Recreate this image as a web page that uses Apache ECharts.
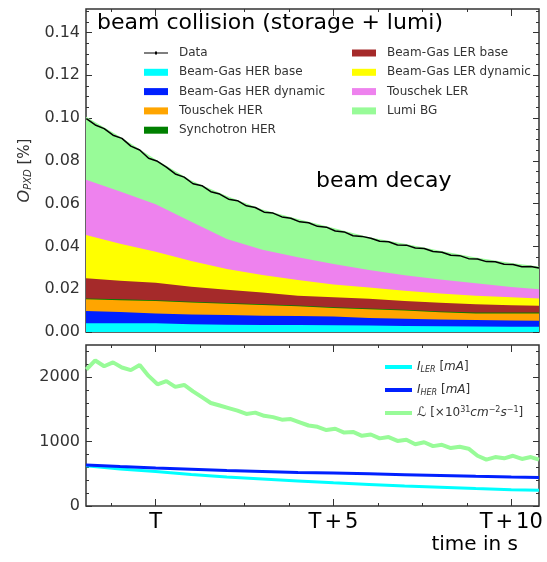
<!DOCTYPE html>
<html>
<head>
<meta charset="utf-8">
<script src="https://cdn.jsdelivr.net/npm/echarts@6/dist/echarts.min.js"></script>
<style>
  html, body { margin: 0; padding: 0; background: #fff; }
  #chart { width: 547px; height: 562px; }
</style>
</head>
<body>
<div id="chart"></div>
<script>
// time (s after T) for the smooth components
const coarseTime = [-1.96, -1, 0, 1, 2, 3, 4, 5, 6, 7, 8, 9, 10, 10.78];
// stacked background contributions, O_PXD [%]
const herBase        = [0.0041, 0.0041, 0.0041, 0.0036, 0.0034, 0.0033, 0.0033, 0.0032, 0.0030, 0.0028, 0.0027, 0.0026, 0.0025, 0.0025];
const herDynamic     = [0.0057, 0.0052, 0.0046, 0.0046, 0.0045, 0.0043, 0.0042, 0.0040, 0.0036, 0.0034, 0.0031, 0.0030, 0.0029, 0.0028];
const touschekHer    = [0.0055, 0.0056, 0.0058, 0.0056, 0.0053, 0.0050, 0.0045, 0.0040, 0.0040, 0.0038, 0.0034, 0.0031, 0.0033, 0.0034];
const synchrotronHer = [0.0004, 0.0004, 0.0004, 0.0004, 0.0004, 0.0004, 0.0004, 0.0004, 0.0004, 0.0004, 0.0004, 0.0004, 0.0004, 0.0004];
const lerBase        = [0.0094, 0.0087, 0.0081, 0.0070, 0.0062, 0.0055, 0.0046, 0.0046, 0.0045, 0.0041, 0.0041, 0.0039, 0.0034, 0.0032];
const lerDynamic     = [0.0202, 0.0172, 0.0145, 0.0120, 0.0097, 0.0082, 0.0073, 0.0060, 0.0053, 0.0048, 0.0043, 0.0040, 0.0037, 0.0034];
const touschekLer    = [0.0259, 0.0245, 0.0222, 0.0183, 0.0140, 0.0118, 0.0107, 0.0096, 0.0082, 0.0072, 0.0065, 0.0058, 0.0048, 0.0043];
const lumiBg         = [0.0294, 0.0256, 0.0209, 0.0193, 0.0201, 0.0188, 0.0178, 0.0168, 0.0153, 0.0148, 0.0135, 0.0120, 0.0113, 0.0106];
// beam currents [mA]
const lerCurrent = [625, 575, 535, 490, 450, 420, 390, 360, 335, 310, 290, 270, 252, 245];
const herCurrent = [635, 612, 590, 570, 550, 536, 522, 511, 500, 487, 475, 462, 450, 443];

// time for the noisy measured curves
const fineTime = [-1.95, -1.7, -1.45, -1.2, -0.95, -0.7, -0.45, -0.2, 0.05, 0.3, 0.55, 0.8, 1.05, 1.3, 1.55, 1.8,
  2.05, 2.3, 2.55, 2.8, 3.05, 3.3, 3.55, 3.8, 4.05, 4.3, 4.55, 4.8, 5.05, 5.3, 5.55, 5.8, 6.05, 6.3, 6.55, 6.8,
  7.05, 7.3, 7.55, 7.8, 8.05, 8.3, 8.55, 8.8, 9.05, 9.3, 9.55, 9.8, 10.05, 10.3, 10.55, 10.78];
const measured = [0.0997, 0.0968, 0.0951, 0.0920, 0.0905, 0.0869, 0.0851, 0.0812, 0.0798, 0.0771, 0.0739, 0.0724,
  0.0693, 0.0684, 0.0656, 0.0645, 0.0621, 0.0614, 0.0590, 0.0582, 0.0560, 0.0556, 0.0538, 0.0532, 0.0515, 0.0511,
  0.0494, 0.0490, 0.0472, 0.0468, 0.0450, 0.0447, 0.0438, 0.0424, 0.0422, 0.0407, 0.0406, 0.0393, 0.0390, 0.0376,
  0.0373, 0.0359, 0.0357, 0.0343, 0.0341, 0.0329, 0.0328, 0.0317, 0.0316, 0.0305, 0.0306, 0.0299];
const luminosity = [2120, 2260, 2170, 2230, 2150, 2110, 2190, 2020, 1890, 1940, 1850, 1880, 1780, 1690, 1600, 1560,
  1520, 1480, 1430, 1450, 1400, 1380, 1340, 1350, 1300, 1250, 1230, 1180, 1200, 1140, 1150, 1090, 1110, 1050, 1070,
  1010, 1030, 960, 990, 930, 950, 900, 920, 890, 780, 720, 760, 740, 780, 730, 760, 720];

// ticks
const xMajor = [0, 5, 10];
const xLabels = ['T', 'T+5', 'T+10'];
const xMinor = [-1.25, 1.25, 2.5, 3.75, 6.25, 7.5, 8.75];
const topMajor = [0, 0.02, 0.04, 0.06, 0.08, 0.10, 0.12, 0.14];
const botMajor = [0, 1000, 2000];

const X_MIN = -1.96, X_MAX = 10.78;
const TOP_MAX = 0.151, BOT_MAX = 2500;
const ink = '#333';

const topMinor = [];
for (let v = 0.005; v < TOP_MAX; v += 0.005) {
  if (Math.abs(v / 0.02 - Math.round(v / 0.02)) > 1e-6) topMinor.push(+v.toFixed(3));
}
const botMinor = [];
for (let v = 200; v < BOT_MAX; v += 200) {
  if (v % 1000 !== 0) botMinor.push(v);
}

function axis(grid, pos, min, max, ticks, len, label) {
  return {
    type: 'value', gridIndex: grid, position: pos, min: min, max: max,
    axisLine: { show: false, onZero: false },
    splitLine: { show: false },
    axisTick: { show: true, inside: true, length: len, customValues: ticks, lineStyle: { color: ink, width: 1 } },
    axisLabel: label ? Object.assign({ customValues: ticks }, label) : { show: false }
  };
}

const yLabel = { fontSize: 16, color: ink, fontFamily: 'DejaVu Sans', margin: 6 };

const xAxes = [
  axis(0, 'bottom', X_MIN, X_MAX, xMajor, 7),
  axis(0, 'top', X_MIN, X_MAX, xMajor, 7),
  axis(0, 'bottom', X_MIN, X_MAX, xMinor, 3),
  axis(0, 'top', X_MIN, X_MAX, xMinor, 3),
  axis(1, 'bottom', X_MIN, X_MAX, xMajor, 7, {
    fontSize: 21, color: '#000', fontFamily: 'DejaVu Sans', margin: 6,
    formatter: v => {
      const s = xLabels[xMajor.indexOf(v)] || '';
      return s.replace('+', '{p|+}');
    },
    rich: { p: { fontSize: 21, color: '#000', fontFamily: 'DejaVu Sans', padding: [0, 3] } }
  }),
  axis(1, 'top', X_MIN, X_MAX, xMajor, 7),
  axis(1, 'bottom', X_MIN, X_MAX, xMinor, 3),
  axis(1, 'top', X_MIN, X_MAX, xMinor, 3)
];

const topLeft = axis(0, 'left', 0, TOP_MAX, topMajor, 6, Object.assign({
  formatter: v => v.toFixed(2)
}, yLabel));
topLeft.name = '{o|O}{s|PXD} [%]';
topLeft.nameLocation = 'middle';
topLeft.nameGap = 52;
topLeft.nameRotate = 90;
topLeft.nameTextStyle = {
  fontSize: 15, color: ink, fontFamily: 'DejaVu Sans',
  rich: {
    o: { fontSize: 16, fontStyle: 'italic', color: ink, fontFamily: 'DejaVu Sans' },
    s: { fontSize: 10, fontStyle: 'italic', color: ink, fontFamily: 'DejaVu Sans', padding: [7, 0, 0, 0] }
  }
};

const yAxes = [
  topLeft,
  axis(0, 'right', 0, TOP_MAX, topMajor, 6),
  axis(0, 'left', 0, TOP_MAX, topMinor, 3),
  axis(0, 'right', 0, TOP_MAX, topMinor, 3),
  axis(1, 'left', 0, BOT_MAX, botMajor, 6, Object.assign({ formatter: v => String(v) }, yLabel)),
  axis(1, 'right', 0, BOT_MAX, botMajor, 6),
  axis(1, 'left', 0, BOT_MAX, botMinor, 3),
  axis(1, 'right', 0, BOT_MAX, botMinor, 3)
];

const pairs = (ts, vs) => ts.map((t, i) => [t, vs[i]]);

// stack by hand: each band is drawn as an area from 0 up to its running total,
// higher bands first so the lower ones paint over them
const bands = [
  ['Beam-Gas HER base', herBase, '#00ffff'],
  ['Beam-Gas HER dynamic', herDynamic, '#0020ff'],
  ['Touschek HER', touschekHer, '#ffa500'],
  ['Synchotron HER', synchrotronHer, '#008000'],
  ['Beam-Gas LER base', lerBase, '#a52a2a'],
  ['Beam-Gas LER dynamic', lerDynamic, '#ffff00'],
  ['Touschek LER', touschekLer, '#ee82ee'],
  ['Lumi BG', lumiBg, '#98fb98']
];
let running = coarseTime.map(() => 0);
const areaSeries = bands.map(([name, values, color]) => {
  running = running.map((r, i) => r + values[i]);
  return {
    name: name, type: 'line', xAxisIndex: 0, yAxisIndex: 0,
    data: pairs(coarseTime, running), symbol: 'none', color: color,
    lineStyle: { width: 0 }, areaStyle: { color: color, opacity: 1 }, z: 2
  };
}).reverse();

function lineSeries(name, ts, values, color, width) {
  return {
    name: name, type: 'line', xAxisIndex: 4, yAxisIndex: 4,
    data: pairs(ts, values), symbol: 'none', color: color,
    lineStyle: { width: width, color: color }, z: 3
  };
}

const series = areaSeries.concat([
  {
    name: 'Data', type: 'line', xAxisIndex: 0, yAxisIndex: 0,
    data: pairs(fineTime, measured), symbol: 'none', color: '#000',
    lineStyle: { width: 1.5, color: '#000' }, z: 4
  },
  lineSeries('lumi', fineTime, luminosity, '#98fb98', 4),
  lineSeries('ler', coarseTime, lerCurrent, '#00ffff', 3),
  lineSeries('her', coarseTime, herCurrent, '#0020ff', 3)
]);

const legendText = { fontSize: 12, color: ink, fontFamily: 'DejaVu Sans', lineHeight: 14, padding: [0, 0, 0, 6] };
const dataIcon = 'path://M0,1 L24,1 L24,2 L0,2 Z M11,0 L13,0 L13,3 L11,3 Z';

const mathRich = {
  i: { fontSize: 12, fontStyle: 'italic', color: ink, fontFamily: 'DejaVu Sans' },
  sub: { fontSize: 8, fontStyle: 'italic', color: ink, fontFamily: 'DejaVu Sans', padding: [5, 0, 0, 0] },
  sup: { fontSize: 8, color: ink, fontFamily: 'DejaVu Sans', padding: [0, 0, 6, 0] },
  l: { fontSize: 13, fontStyle: 'italic', color: ink, fontFamily: 'DejaVu Sans' }
};
const lineLegendNames = {
  ler: '{i|I}{sub|LER} [{i|mA}]',
  her: '{i|I}{sub|HER} [{i|mA}]',
  lumi: '{l|\u2112} [\u00d710{sup|31}{i|cm}{sup|\u22122}{i|s}{sup|\u22121}]'
};

const option = {
  animation: false,
  backgroundColor: '#fff',
  grid: [
    { left: 86, right: 8, top: 9, height: 323, show: true, borderColor: ink, borderWidth: 1.5, backgroundColor: 'transparent' },
    { left: 86, right: 8, top: 345, height: 161, show: true, borderColor: ink, borderWidth: 1.5, backgroundColor: 'transparent' }
  ],
  xAxis: xAxes,
  yAxis: yAxes,
  legend: [
    {
      left: 139, top: 41, orient: 'vertical', itemWidth: 24, itemHeight: 7, itemGap: 5.3,
      icon: 'rect', textStyle: legendText, selectedMode: false,
      data: [{ name: 'Data', icon: dataIcon }, 'Beam-Gas HER base', 'Beam-Gas HER dynamic', 'Touschek HER', 'Synchotron HER']
    },
    {
      left: 347, top: 41, orient: 'vertical', itemWidth: 24, itemHeight: 7, itemGap: 5.3,
      icon: 'rect', textStyle: legendText, selectedMode: false,
      data: ['Beam-Gas LER base', 'Beam-Gas LER dynamic', 'Touschek LER', 'Lumi BG']
    },
    {
      left: 380, top: 354, orient: 'vertical', itemWidth: 27, itemHeight: 4, itemGap: 7,
      icon: 'rect', selectedMode: false,
      textStyle: { fontSize: 12, color: ink, fontFamily: 'DejaVu Sans', lineHeight: 16, rich: mathRich },
      formatter: name => lineLegendNames[name],
      data: ['ler', 'her', 'lumi']
    }
  ],
  graphic: [
    {
      type: 'text', left: 97, top: 12, z: 10,
      style: { text: 'beam collision (storage + lumi)', font: '22px "DejaVu Sans"', fill: '#000' }
    },
    {
      type: 'text', left: 316, top: 170, z: 10,
      style: { text: 'beam decay', font: '22px "DejaVu Sans"', fill: '#000' }
    },
    {
      type: 'text', right: 29, top: 535, z: 10,
      style: { text: 'time in s', font: '20px "DejaVu Sans"', fill: '#000' }
    }
  ],
  series: series
};

const chart = echarts.init(document.getElementById('chart'));
chart.setOption(option);
</script>
</body>
</html>
